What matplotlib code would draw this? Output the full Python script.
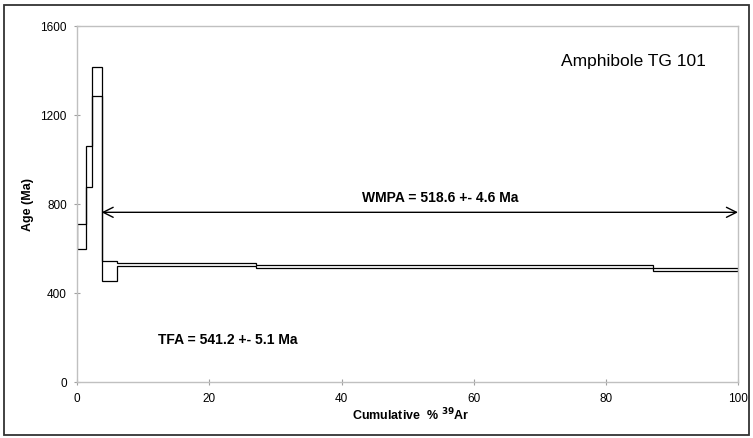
import matplotlib
matplotlib.use('Agg')
import matplotlib.pyplot as plt
from matplotlib.patches import Rectangle

plt.rcParams['font.family'] = ['Liberation Sans', 'DejaVu Sans']

# step edges (cumulative % 39Ar) and age bounds of each step (Ma)
cum_pct = [0, 1.26, 2.16, 3.68, 6.05, 27.0, 87.1, 100]
age_hi = [711, 1060, 1417, 545, 535, 529, 515]
age_lo = [599, 879, 1286, 455, 521, 515, 502]

plateau_start = 3.68
plateau_end = 100
arrow_age = 764
wmpa_text = 'WMPA = 518.6 +- 4.6 Ma'
tfa_text = 'TFA = 541.2 +- 5.1 Ma'
sample_name = 'Amphibole TG 101'

x_ticks = [0, 20, 40, 60, 80, 100]
y_ticks = [0, 400, 800, 1200, 1600]

fig = plt.figure(figsize=(7.53, 4.38), dpi=100)
ax = fig.add_axes([77.3/753, 1 - 382.3/438, (738 - 77.3)/753, (382.3 - 26.3)/438])

# upper and lower step outlines, closed at both ends
ax.stairs(age_hi, cum_pct, baseline=None, color='black', lw=0.9)
ax.stairs(age_lo, cum_pct, baseline=None, color='black', lw=0.9)
ax.vlines([cum_pct[0], cum_pct[-1]], [age_lo[0], age_lo[-1]], [age_hi[0], age_hi[-1]],
          color='black', lw=0.9)

# plateau arrow
ax.annotate('', xy=(plateau_start, arrow_age), xytext=(plateau_end, arrow_age),
            arrowprops=dict(arrowstyle='<->', color='black', lw=1.0,
                            mutation_scale=18, shrinkA=0, shrinkB=0))
ax.text(55.0, 828, wmpa_text, ha='center', va='center', fontsize=10, fontweight='bold')
ax.text(12.2, 190, tfa_text, ha='left', va='center', fontsize=10, fontweight='bold')
ax.text(73.2, 1443, sample_name, ha='left', va='center', fontsize=12.5)

ax.set_xlim(0, 100)
ax.set_ylim(0, 1600)
ax.set_xticks(x_ticks)
ax.set_yticks(y_ticks)
ax.tick_params(direction='inout', length=5, width=0.8, color='#a0a0a0',
               labelsize=8.5, pad=5)
for s in ax.spines.values():
    s.set_color('#c0c0c0')
    s.set_linewidth(1.0)

ax.set_xlabel(r'Cumulative  % $^{\mathbf{39}}$Ar', fontsize=9, fontweight='bold', va='baseline')
ax.set_ylabel('Age (Ma)', fontsize=9, fontweight='bold', va='center')
ax.xaxis.set_label_coords(0.505, -0.108)
ax.yaxis.set_label_coords(-0.0745, 0.5)

# outer frame round the whole chart
fig.patches.append(Rectangle((4/753, 1 - 435/438), (749 - 4)/753, (435 - 5)/438,
                             transform=fig.transFigure, fill=False,
                             edgecolor='#333333', lw=1.3))

fig.savefig('out.png', dpi=100)
